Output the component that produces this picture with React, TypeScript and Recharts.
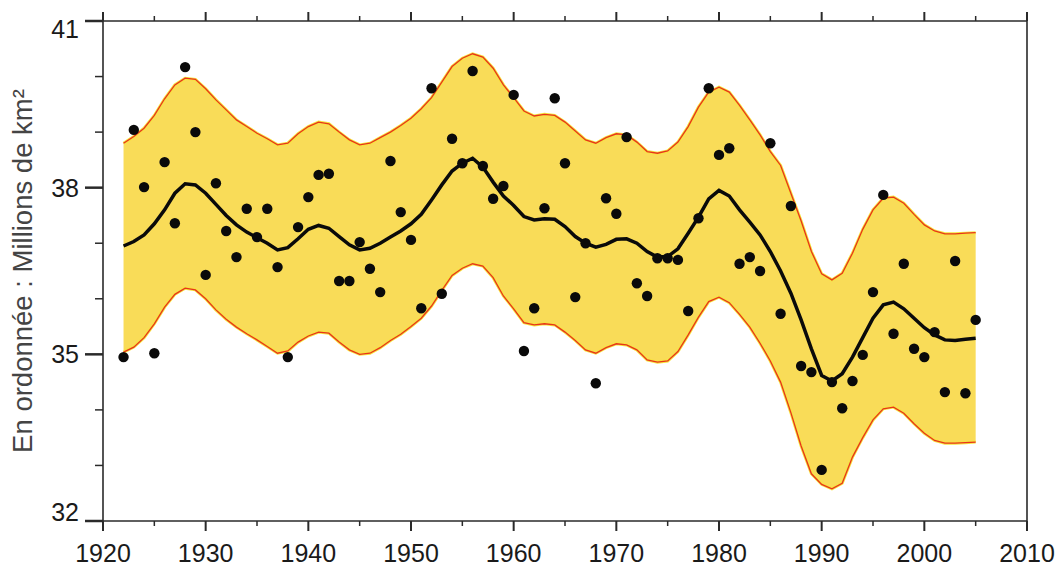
import React from 'react';
import { ComposedChart, Area, Line, Scatter, XAxis, YAxis, Customized } from 'recharts';

// Years of observations (also the years of the smoothed curve and band)
const years: number[] = [];
for (let y = 1922; y <= 2005; y++) years.push(y);

// Observed values (millions of km²)
const observed = [
  34.95, 39.04, 38.01, 35.02, 38.46, 37.36, 40.17, 39.0, 36.43, 38.08,
  37.22, 36.75, 37.62, 37.11, 37.62, 36.57, 34.95, 37.29, 37.83, 38.23,
  38.25, 36.32, 36.32, 37.02, 36.54, 36.12, 38.48, 37.56, 37.06, 35.83,
  39.79, 36.09, 38.88, 38.44, 40.1, 38.39, 37.8, 38.03, 39.67, 35.06,
  35.83, 37.63, 39.61, 38.44, 36.03, 37.0, 34.48, 37.81, 37.53, 38.91,
  36.28, 36.05, 36.73, 36.73, 36.7, 35.78, 37.45, 39.79, 38.59, 38.71,
  36.63, 36.75, 36.5, 38.8, 35.73, 37.67, 34.79, 34.68, 32.92, 34.5,
  34.03, 34.52, 34.99, 36.12, 37.87, 35.37, 36.63, 35.1, 34.95, 35.4,
  34.32, 36.68, 34.3, 35.62,
];

// Smoothed mean
const meanValues = [
  36.95, 37.03, 37.15, 37.35, 37.6, 37.9, 38.07, 38.05, 37.9, 37.7,
  37.5, 37.33, 37.2, 37.1, 37.0, 36.88, 36.92, 37.08, 37.25, 37.32,
  37.27, 37.12, 36.97, 36.88, 36.91, 37.0, 37.11, 37.22, 37.35, 37.52,
  37.78, 38.05, 38.3, 38.44, 38.53, 38.37, 38.1, 37.85, 37.68, 37.48,
  37.42, 37.44, 37.43, 37.3, 37.12, 37.0, 36.93, 36.98, 37.07, 37.08,
  37.0, 36.85, 36.75, 36.76, 36.9, 37.18, 37.47, 37.8, 37.95, 37.85,
  37.6, 37.38, 37.15, 36.85, 36.5, 36.1, 35.62, 35.1, 34.62, 34.52,
  34.65, 34.95, 35.3, 35.65, 35.89, 35.94, 35.82, 35.65, 35.48, 35.35,
  35.26, 35.25, 35.27, 35.29,
];

// Upper bound of the band
const upperValues = [
  38.8, 38.92, 39.07, 39.3, 39.6, 39.85, 39.97, 39.95, 39.78, 39.58,
  39.4, 39.22, 39.1, 38.98, 38.88, 38.77, 38.8, 38.97, 39.1, 39.18,
  39.15, 39.0, 38.86, 38.77, 38.8, 38.9, 39.0, 39.12, 39.25, 39.42,
  39.62, 39.9, 40.18, 40.33, 40.41, 40.35, 40.15, 39.85, 39.62, 39.38,
  39.29, 39.32, 39.3, 39.18, 39.02, 38.86, 38.8, 38.9, 38.97, 38.95,
  38.82, 38.65, 38.62, 38.66, 38.82, 39.1, 39.45, 39.72, 39.81, 39.72,
  39.48, 39.22, 38.95, 38.65, 38.4, 37.9, 37.4, 36.85, 36.45, 36.34,
  36.46, 36.82, 37.25, 37.6, 37.81, 37.83, 37.72, 37.52, 37.33, 37.22,
  37.17, 37.17, 37.18, 37.19,
];

// Lower bound of the band
const lowerValues = [
  35.04, 35.13, 35.3, 35.55, 35.85, 36.08, 36.19, 36.16, 36.0, 35.8,
  35.63, 35.49, 35.37, 35.26, 35.14, 35.02, 35.06, 35.22, 35.33, 35.4,
  35.38, 35.22, 35.08, 35.0, 35.02, 35.12, 35.25, 35.36, 35.5, 35.65,
  35.87, 36.15, 36.42, 36.55, 36.63, 36.59, 36.38, 36.05, 35.82, 35.57,
  35.53, 35.55, 35.53, 35.4, 35.25, 35.08, 35.02, 35.12, 35.19, 35.17,
  35.08, 34.9, 34.86, 34.88, 35.05, 35.35, 35.67, 35.95, 36.03, 35.93,
  35.72, 35.49, 35.2, 34.88, 34.5, 33.95, 33.35, 32.85, 32.66, 32.58,
  32.68, 33.15, 33.5, 33.82, 34.02, 34.05, 33.94, 33.75, 33.58, 33.45,
  33.4, 33.4, 33.41, 33.42,
];

const xTicks = [1920, 1925, 1930, 1935, 1940, 1945, 1950, 1955, 1960, 1965, 1970, 1975, 1980, 1985, 1990, 1995, 2000, 2005, 2010];
const yTicks = [32, 33, 34, 35, 36, 37, 38, 39, 40, 41];
const yLabelled = [32, 35, 38, 41];
const yTitle = 'En ordonnée : Millions de km²';

const data = years.map((year, i) => ({
  year,
  obs: observed[i],
  mean: meanValues[i],
  upper: upperValues[i],
  lower: lowerValues[i],
  band: [lowerValues[i], upperValues[i]],
}));

const AX = '#2a2a2a';
const FONT = '"Liberation Sans", Arial, sans-serif';

const BottomTick = (props: any) => {
  const { x, y, payload } = props;
  const major = payload.value % 10 === 0;
  return (
    <g>
      <line x1={x} x2={x} y1={y} y2={y + (major ? 10 : 5)} stroke={AX} strokeWidth={major ? 2 : 1.5} />
      {major && (
        <text x={x} y={y + 41} textAnchor="middle" fontFamily={FONT} fontSize={25} fill="#1a1a1a">
          {payload.value}
        </text>
      )}
    </g>
  );
};

const TopTick = (props: any) => {
  const { x, y, payload } = props;
  const major = payload.value % 10 === 0;
  return <line x1={x} x2={x} y1={y} y2={y - (major ? 9 : 5)} stroke={AX} strokeWidth={major ? 2 : 1.5} />;
};

const LeftTick = (props: any) => {
  const { x, y, payload } = props;
  const major = yLabelled.includes(payload.value);
  const dy = payload.value === 41 ? 17 : payload.value === 32 ? 0 : 9;
  return (
    <g>
      <line x1={x - (major ? 18 : 8)} x2={x} y1={y} y2={y} stroke={AX} strokeWidth={major ? 2.5 : 1.5} />
      {major && (
        <text x={x - 24} y={y + dy} textAnchor="end" fontFamily={FONT} fontSize={25} fill="#1a1a1a">
          {payload.value}
        </text>
      )}
    </g>
  );
};

const RightTick = (props: any) => {
  const { x, y, payload } = props;
  const major = yLabelled.includes(payload.value);
  return <line x1={x} x2={x + (major ? 18 : 9)} y1={y} y2={y} stroke={AX} strokeWidth={major ? 2.5 : 1.5} />;
};

const Dot = (props: any) => {
  const { cx, cy } = props;
  return <circle cx={cx} cy={cy} r={5.2} fill="#0a0a0a" />;
};

const YTitle = () => (
  <text
    x={32}
    y={271}
    transform="rotate(-90 32 271)"
    textAnchor="middle"
    fontFamily={FONT}
    fontSize={27.5}
    fill="#444"
  >
    {yTitle}
  </text>
);

export default function App() {
  return (
    <div>
      <style>{'html,body{margin:0;padding:0;overflow:hidden;}'}</style>
      <ComposedChart width={1061} height={566} data={data} margin={{ top: 20, right: 33, bottom: 44, left: 102 }}>
        <XAxis
          xAxisId="b"
          type="number"
          dataKey="year"
          domain={[1920, 2010]}
          ticks={xTicks}
          interval={0}
          height={1}
          tickSize={0}
          tickMargin={0}
          tickLine={false}
          axisLine={{ stroke: AX, strokeWidth: 1.6 }}
          tick={<BottomTick />}
        />
        <XAxis
          xAxisId="t"
          orientation="top"
          type="number"
          dataKey="year"
          domain={[1920, 2010]}
          ticks={xTicks}
          interval={0}
          height={1}
          tickSize={0}
          tickMargin={0}
          tickLine={false}
          axisLine={{ stroke: AX, strokeWidth: 1.6 }}
          tick={<TopTick />}
        />
        <YAxis
          yAxisId="l"
          type="number"
          domain={[32, 41]}
          ticks={yTicks}
          interval={0}
          width={1}
          tickSize={0}
          tickMargin={0}
          tickLine={false}
          axisLine={{ stroke: AX, strokeWidth: 1.6 }}
          tick={<LeftTick />}
        />
        <YAxis
          yAxisId="r"
          orientation="right"
          type="number"
          domain={[32, 41]}
          ticks={yTicks}
          interval={0}
          width={1}
          tickSize={0}
          tickMargin={0}
          tickLine={false}
          axisLine={{ stroke: AX, strokeWidth: 1.6 }}
          tick={<RightTick />}
        />
        <Area
          xAxisId="b"
          yAxisId="l"
          type="linear"
          dataKey="band"
          fill="#F9DC58"
          fillOpacity={1}
          stroke="#F6E43A"
          strokeWidth={3}
          isAnimationActive={false}
          dot={false}
          activeDot={false}
        />
        <Line xAxisId="b" yAxisId="l" type="linear" dataKey="upper" stroke="#E8341C" strokeWidth={1.3} dot={false} activeDot={false} isAnimationActive={false} />
        <Line xAxisId="b" yAxisId="l" type="linear" dataKey="lower" stroke="#E8341C" strokeWidth={1.3} dot={false} activeDot={false} isAnimationActive={false} />
        <Line xAxisId="b" yAxisId="l" type="linear" dataKey="mean" stroke="#0a0a0a" strokeWidth={3.5} dot={false} activeDot={false} isAnimationActive={false} />
        <Scatter xAxisId="b" yAxisId="l" dataKey="obs" shape={<Dot />} isAnimationActive={false} />
        <Customized component={YTitle} />
      </ComposedChart>
    </div>
  );
}
